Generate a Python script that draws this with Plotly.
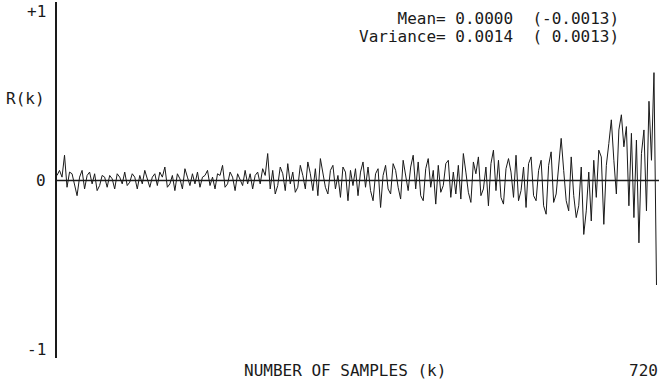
import plotly.graph_objects as go

# sample lag positions (every 3rd lag of 0..719)
step = 3
r_values = [
    # k 0-57
    0.03, 0.06, 0.02, 0.15, -0.04, 0.05, 0.04, -0.03, -0.09, 0.02,
    0.06, -0.05, 0.03, 0.05, -0.02, 0.04, -0.06, -0.03, 0.03, 0.02,
    # k 60-117
    -0.04, 0.03, 0.01, -0.05, 0.04, 0.02, -0.02, 0.05, -0.03, -0.01,
    0.04, 0.02, -0.05, 0.03, -0.02, 0.06, 0.01, -0.04, 0.02, 0.04,
    # k 120-177
    -0.03, 0.05, 0.02, 0.08, -0.04, -0.02, 0.03, -0.06, 0.04, 0.01,
    -0.05, 0.07, 0.02, -0.03, 0.04, -0.02, 0.05, -0.04, 0.02, 0.03,
    # k 180-237
    0.06, -0.03, 0.02, -0.05, 0.04, 0.03, 0.09, -0.04, -0.02, 0.05,
    0.02, -0.06, 0.04, 0.01, -0.03, 0.06, -0.02, 0.04, -0.05, 0.03,
    # k 240-297
    0.05, -0.02, 0.07, 0.03, 0.16, -0.05, 0.06, -0.08, -0.03, 0.08,
    0.04, -0.06, 0.10, -0.02, 0.05, -0.07, -0.04, 0.09, 0.03, -0.05,
    # k 300-357
    0.11, 0.04, -0.06, 0.07, -0.09, 0.13, 0.05, -0.04, -0.08, 0.06,
    0.09, -0.05, 0.03, -0.10, 0.08, 0.05, -0.12, 0.06, -0.03, 0.07,
    # k 360-417
    -0.09, 0.05, 0.11, -0.04, 0.08, -0.06, -0.12, 0.04, 0.07, -0.16,
    0.03, 0.09, -0.05, -0.08, 0.10, 0.06, -0.04, -0.11, 0.12, 0.04,
    # k 420-477
    -0.06, 0.08, 0.15, -0.05, 0.11, -0.09, -0.12, 0.07, 0.13, -0.04,
    0.06, -0.14, 0.09, -0.07, -0.03, 0.10, 0.12, -0.10, 0.05, -0.08,
    # k 480-537
    0.09, -0.11, 0.16, 0.05, -0.07, -0.13, 0.11, 0.04, 0.14, -0.09,
    -0.05, 0.08, -0.15, 0.10, 0.18, -0.06, 0.12, -0.10, -0.14, 0.07,
    # k 540-597
    0.13, 0.05, -0.10, 0.15, -0.12, -0.06, 0.08, -0.16, 0.10, 0.14,
    -0.09, -0.12, 0.06, 0.12, -0.15, -0.20, 0.09, 0.17, -0.13, -0.08,
    # k 600-657
    0.10, 0.25, 0.06, -0.12, -0.18, 0.14, -0.09, -0.22, -0.15, 0.08,
    -0.32, -0.18, 0.05, -0.24, 0.12, -0.10, 0.18, 0.14, -0.26, 0.09,
    # k 660-717
    0.22, 0.36, 0.12, -0.08, 0.30, 0.39, 0.20, 0.32, -0.15, 0.28,
    -0.22, 0.24, -0.37, 0.16, 0.30, -0.18, 0.47, 0.12, 0.64, -0.62,
]
k_values = [i * step for i in range(len(r_values))]

y_tick_vals = [-1, 0, 1]
y_tick_text = ["-1", "0", "+1"]
x_label = "NUMBER OF SAMPLES (k)"
x_max_label = "720"
y_label = "R(k)"
stats_lines = ["    Mean= 0.0000  (-0.0013)", "Variance= 0.0014  ( 0.0013)"]

FONT = "DejaVu Sans Mono"
INK = "#1a1a1a"
FS = 16

L, R, T, B = 57, 2, 2, 23
W, H = 661, 381
PW, PH = W - L - R, H - T - B


def px_x(px):
    return (px - L) / PW


def px_y(py):
    return (H - B - py) / PH


fig = go.Figure()
fig.add_trace(go.Scatter(
    x=k_values, y=r_values, mode="lines",
    line=dict(color=INK, width=1), hoverinfo="skip", showlegend=False,
))

# zero line
fig.add_shape(type="line", xref="x", yref="y", x0=0, x1=720, y0=0, y1=0,
              line=dict(color=INK, width=1.6))

for v, t in zip(y_tick_vals, y_tick_text):
    fig.add_annotation(xref="paper", yref="y", x=px_x(48), y=v, text=t,
                       showarrow=False, xanchor="right", yanchor="middle",
                       font=dict(family=FONT, size=FS, color=INK))

fig.add_annotation(xref="paper", yref="paper", x=px_x(4), y=px_y(98), text=y_label,
                   showarrow=False, xanchor="left", yanchor="middle",
                   font=dict(family=FONT, size=FS, color=INK))

fig.add_annotation(xref="paper", yref="paper", x=px_x(345), y=px_y(370),
                   text=x_label, showarrow=False, xanchor="center", yanchor="middle",
                   font=dict(family=FONT, size=FS, color=INK))
fig.add_annotation(xref="paper", yref="paper", x=px_x(660), y=px_y(370),
                   text=x_max_label, showarrow=False, xanchor="right", yanchor="middle",
                   font=dict(family=FONT, size=FS, color=INK))

for line_text, py in zip(stats_lines, [19, 37]):
    fig.add_annotation(xref="paper", yref="paper", x=px_x(621), y=px_y(py),
                       text=line_text.replace(" ", "&nbsp;"),
                       showarrow=False, xanchor="right", yanchor="middle",
                       font=dict(family=FONT, size=FS, color=INK))

fig.update_layout(
    width=W, height=H,
    margin=dict(l=L, r=R, t=T, b=B),
    paper_bgcolor="white", plot_bgcolor="white",
    xaxis=dict(range=[0, 720], visible=False, showgrid=False, zeroline=False),
    yaxis=dict(range=[-1.053, 1.059], showgrid=False, zeroline=False,
               showticklabels=False, ticks="", showline=True,
               linecolor=INK, linewidth=1.5),
)

fig.write_html("out.html", config={"displayModeBar": False},
               post_script="document.body.style.margin='0';document.body.style.padding='0';")
